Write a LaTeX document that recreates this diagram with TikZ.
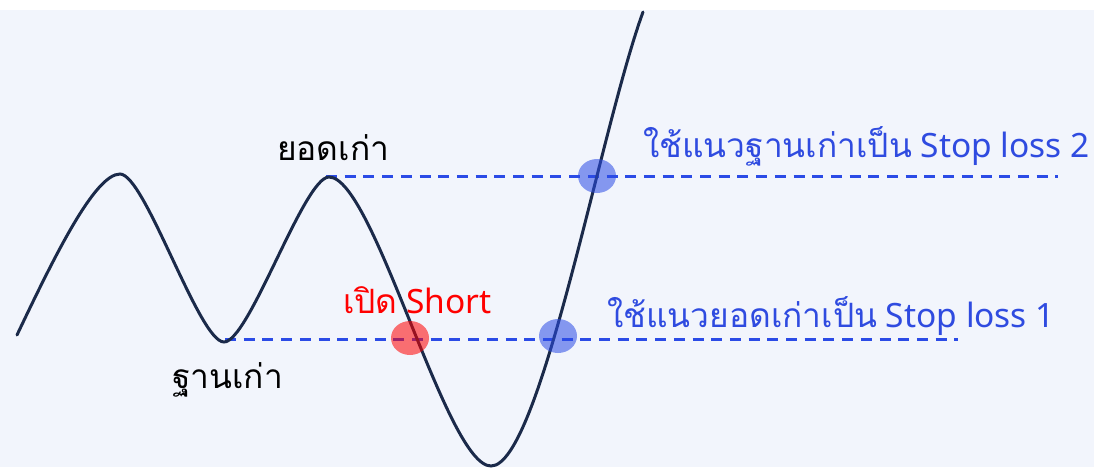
\documentclass[tikz,border=0pt]{standalone}
\usepackage{fontspec}
\setmainfont{Noto Sans}
\newfontfamily\thaifont[Script=Thai]{Loma}
\definecolor{bgpanel}{HTML}{F2F5FC}
\definecolor{curvec}{HTML}{1B2A4A}
\definecolor{lineblue}{HTML}{2B4BE6}
\definecolor{textblue}{HTML}{2F4BE0}
\tikzset{
  lvl/.style={draw=lineblue, line width=3pt, dash pattern=on 11pt off 7.7pt},
  price/.style={draw=curvec, line width=3pt, line cap=round},
  hitblue/.style={fill=lineblue, fill opacity=0.55, draw=none},
  hitred/.style={fill=red, fill opacity=0.55, draw=none},
  lbl/.style={anchor=base west, inner sep=0pt, font=\fontsize{33.5}{40}\selectfont},
}
\begin{document}
\begin{tikzpicture}[x=1pt,y=-1pt]
\useasboundingbox (0,0) rectangle (1094,467);
\fill[white] (0,0) rectangle (1094,467);
\fill[bgpanel] (0,10) rectangle (1094,467);
% levels
\coordinate (topA) at (326,176);
\coordinate (topB) at (1058,176);
\coordinate (botA) at (225,339);
\coordinate (botB) at (958,339);
\draw[lvl] (topA) -- (topB);
\draw[lvl] (botA) -- (botB);
% price curve
\coordinate (p0) at (17,335);
\coordinate (pk1) at (120,174);
\coordinate (tr1) at (224,342);
\coordinate (pk2) at (329,177);
\coordinate (tr2) at (491,466);
\coordinate (pend) at (643,12);
\draw[price] (p0) .. controls (55,255) and (95,174) .. (pk1)
  .. controls (145,174) and (199,342) .. (tr1)
  .. controls (249,342) and (304,177) .. (pk2)
  .. controls (374,177) and (446,466) .. (tr2)
  .. controls (540,466) and (600,130) .. (pend);
% hit markers
\path[hitred] (410,338) ellipse [x radius=19, y radius=17];
\path[hitblue] (558,336) ellipse [x radius=19, y radius=17];
\path[hitblue] (597,176) ellipse [x radius=19, y radius=17];
% labels
\node[lbl, text=black] (peak) at (277,160) {\thaifont ยอดเก่า};
\node[lbl, text=black] (base) at (172,388) {\thaifont ฐานเก่า};
\node[lbl, text=red] (short) at (343,313) {{\thaifont เปิด} Short};
\node[lbl, text=textblue] (sl2) at (643,157) {{\thaifont ใช้แนวฐานเก่าเป็น} Stop loss 2};
\node[lbl, text=textblue] (sl1) at (607,327) {{\thaifont ใช้แนวยอดเก่าเป็น} Stop loss 1};
\end{tikzpicture}
\end{document}
